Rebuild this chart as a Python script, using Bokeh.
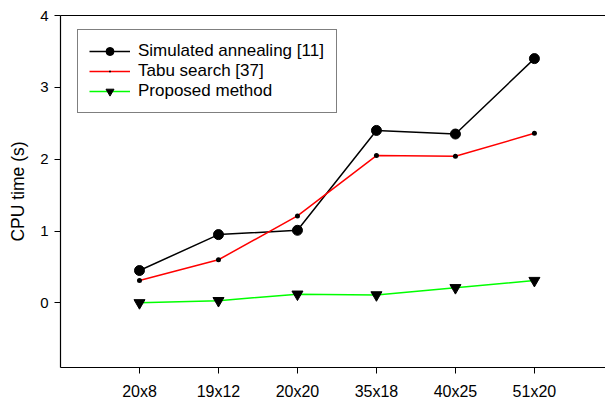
from bokeh.plotting import figure
from bokeh.models import FixedTicker, Range1d, LinearAxis, Legend, LegendItem
from bokeh.embed import file_html
from bokeh.resources import INLINE

categories = ["20x8", "19x12", "20x20", "35x18", "40x25", "51x20"]
simulated_annealing = [0.45, 0.95, 1.01, 2.40, 2.35, 3.40]
tabu_search = [0.31, 0.60, 1.21, 2.05, 2.04, 2.36]
proposed = [0.00, 0.03, 0.12, 0.11, 0.21, 0.31]
y_ticks = [0, 1, 2, 3, 4]

xs = list(range(len(categories)))
FONT = "Liberation Sans"

p = figure(width=605, height=402, output_backend="svg", toolbar_location=None,
           x_range=Range1d(-1, 5.9), y_range=Range1d(-0.9, 4.0),
           min_border_left=60, min_border_top=15, min_border_bottom=35, min_border_right=0)
p.outline_line_color = None
p.grid.visible = False
p.background_fill_color = "white"
p.border_fill_color = "white"

# axes
p.xaxis.ticker = FixedTicker(ticks=xs)
p.xaxis.major_label_overrides = {i: c for i, c in enumerate(categories)}
p.yaxis.ticker = FixedTicker(ticks=y_ticks)
for ax in (p.xaxis[0], p.yaxis[0]):
    ax.axis_line_color = "black"
    ax.axis_line_width = 1.2
    ax.major_tick_line_color = "black"
    ax.major_tick_in = 0
    ax.major_tick_out = 6
    ax.minor_tick_line_color = None
    ax.major_label_text_font = FONT
    ax.major_label_text_color = "black"
p.xaxis.major_label_text_font_size = "16px"
p.yaxis.major_label_text_font_size = "15px"
p.xaxis.major_label_standoff = 9
p.yaxis.major_label_standoff = 6
p.yaxis.axis_label = "CPU time (s)"
p.yaxis.axis_label_text_font = FONT
p.yaxis.axis_label_text_font_size = "17.5px"
p.yaxis.axis_label_text_font_style = "normal"
p.yaxis.axis_label_text_color = "black"
p.yaxis.axis_label_standoff = 9

top = LinearAxis(ticker=FixedTicker(ticks=[]), major_label_text_font_size="0px",
                 axis_line_color="black", axis_line_width=1.2,
                 major_tick_line_color=None, minor_tick_line_color=None)
p.add_layout(top, "above")

# series
l1 = p.line(xs, simulated_annealing, line_color="black", line_width=1.5)
m1 = p.scatter(xs, simulated_annealing, marker="circle", size=10, fill_color="black", line_color="black")
l2 = p.line(xs, tabu_search, line_color="red", line_width=1.5)
m2 = p.scatter(xs, tabu_search, marker="dot", size=20, fill_color="black", line_color="black")
l3 = p.line(xs, proposed, line_color="#00ff00", line_width=1.5)
m3 = p.scatter(xs, proposed, marker="inverted_triangle", size=11, fill_color="black", line_color="black")

legend = Legend(items=[
    LegendItem(label="Simulated annealing [11]", renderers=[l1, m1]),
    LegendItem(label="Tabu search [37]", renderers=[l2, m2]),
    LegendItem(label="Proposed method", renderers=[l3, m3]),
], location=(17, 254))
legend.label_text_font = FONT
legend.label_text_font_size = "17px"
legend.label_text_color = "black"
legend.glyph_width = 41
legend.glyph_height = 20
legend.label_height = 20
legend.label_width = 187
legend.label_standoff = 8
legend.padding = 11
legend.spacing = 0
legend.margin = 0
legend.border_line_color = "black"
legend.border_line_width = 1
legend.background_fill_alpha = 1
p.add_layout(legend)

open("out.html", "w").write(file_html(p, INLINE))
